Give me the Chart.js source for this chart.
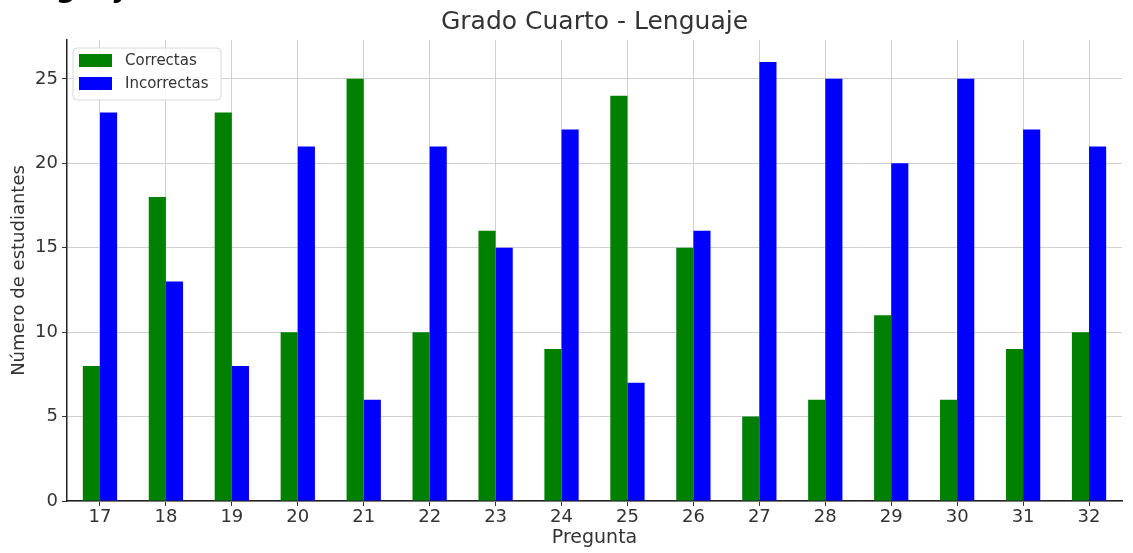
<!DOCTYPE html>
<html>
<head>
<meta charset="utf-8">
<script src="https://cdn.jsdelivr.net/npm/chart.js@4"></script>
<style>
  html, body { margin: 0; padding: 0; background: #fff; overflow: hidden; }
  #wrap { position: relative; width: 1133px; height: 553px; }
  #cut { position: absolute; left: -1px; top: -29px; font: bold 28px "DejaVu Sans"; color: #000; white-space: nowrap; }
</style>
</head>
<body>
<div id="wrap">
  <canvas id="gradeChart" width="1133" height="553"></canvas>
  <div id="cut">Lenguaje</div>
</div>
<script>
const preguntas = ["17", "18", "19", "20", "21", "22", "23", "24", "25", "26", "27", "28", "29", "30", "31", "32"];
const correctas = [8, 18, 23, 10, 25, 10, 16, 9, 24, 15, 5, 6, 11, 6, 9, 10];
const incorrectas = [23, 13, 8, 21, 6, 21, 15, 22, 7, 16, 26, 25, 20, 25, 22, 21];
const yTicks = [0, 5, 10, 15, 20, 25];

const titulo = "Grado Cuarto - Lenguaje";
const font = "DejaVu Sans";

// title + legend drawn on the plot area like matplotlib does
const extras = {
  id: "extras",
  afterDraw(chart) {
    const c = chart.ctx;
    const area = chart.chartArea;
    c.save();
    c.fillStyle = "#333";
    c.font = `25px "${font}"`;
    c.textAlign = "center";
    c.textBaseline = "middle";
    c.fillText(titulo, (area.left + area.right) / 2, 22);

    const x0 = area.left + 6, y0 = area.top + 8;
    const w = 148, h = 52;
    c.beginPath();
    c.roundRect(x0, y0, w, h, 4);
    c.fillStyle = "rgba(255,255,255,0.8)";
    c.fill();
    c.strokeStyle = "#d8d8d8";
    c.lineWidth = 1;
    c.stroke();

    c.font = `15px "${font}"`;
    c.textAlign = "left";
    chart.data.datasets.forEach((ds, i) => {
      const ry = y0 + 6 + i * 23;
      c.fillStyle = ds.backgroundColor;
      c.fillRect(x0 + 6, ry, 33, 13);
      c.fillStyle = "#333";
      c.fillText(ds.label, x0 + 52, ry + 7);
    });
    c.restore();
  }
};

new Chart(document.getElementById("gradeChart"), {
  type: "bar",
  data: {
    labels: preguntas,
    datasets: [
      { label: "Correctas", data: correctas, backgroundColor: "#008000" },
      { label: "Incorrectas", data: incorrectas, backgroundColor: "#0000ff" }
    ]
  },
  options: {
    responsive: false,
    animation: false,
    layout: { padding: { top: 40, right: 11, left: 0, bottom: 0 } },
    datasets: { bar: { categoryPercentage: 0.52, barPercentage: 1.0 } },
    plugins: {
      legend: { display: false },
      title: { display: false },
      tooltip: { enabled: false }
    },
    scales: {
      x: {
        grid: { offset: false, color: "#d0d0d0", tickColor: "#333", tickLength: 5 },
        border: { color: "#222", width: 1.5 },
        ticks: { color: "#333", font: { family: font, size: 18 }, padding: 1 },
        title: { display: true, text: "Pregunta", color: "#333", font: { family: font, size: 19 }, padding: { top: 0 } },
        afterFit(scale) { scale.height = 52; }
      },
      y: {
        min: 0,
        max: 27.3,
        afterBuildTicks(scale) { scale.ticks = yTicks.map(v => ({ value: v })); },
        grid: { color: "#d0d0d0", tickColor: "#333", tickLength: 5 },
        border: { color: "#222", width: 1.5 },
        ticks: { color: "#333", font: { family: font, size: 18 }, padding: 4 },
        title: { display: true, text: "Número de estudiantes", color: "#333", font: { family: font, size: 18 }, padding: { top: 9, bottom: 0 } },
        afterFit(scale) { scale.width = 67; }
      }
    }
  },
  plugins: [extras]
});
</script>
</body>
</html>
